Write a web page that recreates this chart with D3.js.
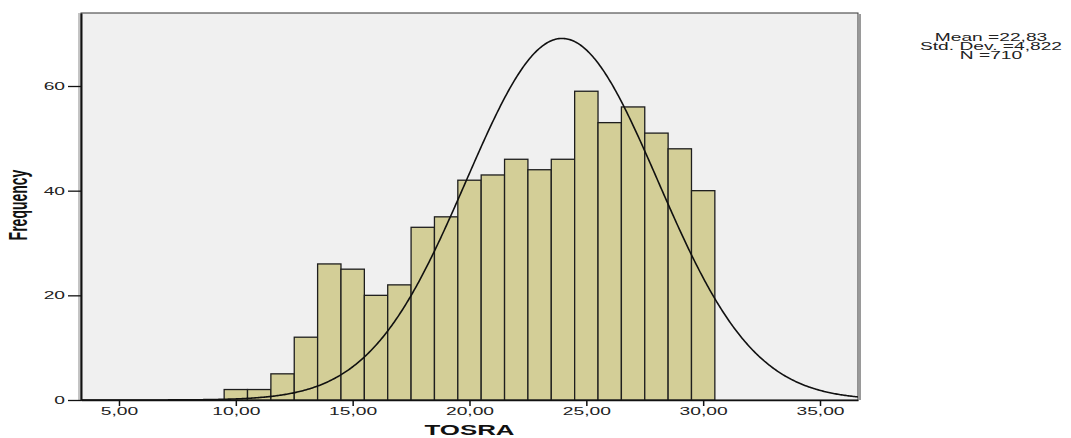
<!DOCTYPE html>
<html>
<head>
<meta charset="utf-8">
<script src="https://cdn.jsdelivr.net/npm/d3@7"></script>
<style>
  html, body { margin: 0; padding: 0; background: #ffffff; }
  svg { display: block; }
  text { font-family: "Liberation Sans", Arial, sans-serif; }
</style>
</head>
<body>
<svg id="chart" width="1071" height="438"></svg>
<script>
// ---- data ----
const binCenters = [10, 11, 12, 13, 14, 15, 16, 17, 18, 19, 20, 21, 22, 23, 24, 25, 26, 27, 28, 29, 30];
const frequencies = [2, 2, 5, 12, 26, 25, 20, 22, 33, 35, 42, 43, 46, 44, 46, 59, 53, 56, 51, 48, 40];
const binWidth = 1;
const xTickValues = [5, 10, 15, 20, 25, 30, 35];
const yTickValues = [0, 20, 40, 60];
const statsLines = ["Mean =22,83", "Std. Dev. =4,822", "N =710"];
// normal curve parameters as drawn in the picture
const curveMean = 23.96;
const curveSd = 4.1;
const curveN = 710;
const xLabel = "TOSRA";
const yLabel = "Frequency";

// ---- layout ----
const svg = d3.select("#chart");
const plotL = 81, plotR = 858, plotT = 13, plotB = 400;
const SX = 1.75; // horizontal text stretch seen in the picture

const x = d3.scaleLinear().domain([3.374, 36.626]).range([plotL, plotR]);
const y = d3.scaleLinear().domain([0, 73.95]).range([plotB, plotT]);

// plot background + frame
svg.append("rect")
  .attr("x", plotL).attr("y", plotT)
  .attr("width", plotR - plotL).attr("height", plotB - plotT)
  .attr("fill", "#f0f0f0")
  .attr("stroke", "#333").attr("stroke-width", 1);
svg.append("line").attr("x1", plotR + 2).attr("x2", plotR + 2).attr("y1", plotT + 1).attr("y2", plotB)
  .attr("stroke", "#9a9a9a").attr("stroke-width", 2);
svg.append("line").attr("x1", plotL - 2).attr("x2", plotL - 2).attr("y1", plotT).attr("y2", plotB)
  .attr("stroke", "#b0b0b0").attr("stroke-width", 1.5);

// bars
const bins = binCenters.map((c, i) => ({ c, f: frequencies[i] }));
svg.append("g").selectAll("rect").data(bins).join("rect")
  .attr("x", d => x(d.c - binWidth / 2))
  .attr("y", d => y(d.f))
  .attr("width", d => x(d.c + binWidth / 2) - x(d.c - binWidth / 2))
  .attr("height", d => y(0) - y(d.f))
  .attr("fill", "#d3ce97")
  .attr("stroke", "#1e1e1e")
  .attr("stroke-width", 1.3);

// normal curve
const pdf = v => curveN * binWidth / (curveSd * Math.sqrt(2 * Math.PI)) *
  Math.exp(-((v - curveMean) ** 2) / (2 * curveSd * curveSd));
const xs = d3.range(x.domain()[0], x.domain()[1] + 0.001, 0.05);
svg.append("path")
  .datum(xs)
  .attr("d", d3.line().x(v => x(v)).y(v => y(pdf(v))))
  .attr("fill", "none")
  .attr("stroke", "#111")
  .attr("stroke-width", 1.6);

// x axis
const gx = svg.append("g").attr("transform", `translate(0,${plotB})`)
  .call(d3.axisBottom(x).tickValues(xTickValues).tickSize(6).tickSizeOuter(0)
    .tickFormat(d => d3.format(".2f")(d).replace(".", ",")));
gx.select(".domain").attr("stroke", "#111").attr("stroke-width", 1.5);
gx.selectAll(".tick line").attr("stroke", "#111").attr("stroke-width", 1.5);
gx.selectAll(".tick text")
  .attr("transform", `scale(${SX},1)`)
  .attr("y", 7).attr("dy", "0.71em")
  .attr("font-size", 11).attr("fill", "#222")
  .attr("font-family", "Liberation Sans, Arial, sans-serif");

// y axis
const gy = svg.append("g").attr("transform", `translate(${plotL},0)`)
  .call(d3.axisLeft(y).tickValues(yTickValues).tickSize(13).tickSizeOuter(0));
gy.select(".domain").attr("stroke", "#111").attr("stroke-width", 2);
gy.selectAll(".tick line").attr("stroke", "#111").attr("stroke-width", 1.3);
gy.selectAll(".tick text")
  .attr("transform", `scale(${SX},1)`)
  .attr("x", -16 / SX)
  .attr("font-size", 11).attr("fill", "#222")
  .attr("font-family", "Liberation Sans, Arial, sans-serif");

// axis titles
svg.append("text")
  .attr("transform", `translate(${(plotL + plotR) / 2},435) scale(1.85,1)`)
  .attr("text-anchor", "middle")
  .attr("font-size", 14).attr("font-weight", "bold").attr("fill", "#111")
  .text(xLabel);

svg.append("text")
  .attr("transform", `translate(27,205) scale(1.9,1) rotate(-90)`)
  .attr("text-anchor", "middle")
  .attr("font-size", 14).attr("font-weight", "bold").attr("fill", "#111")
  .text(yLabel);

// stats box text
svg.append("g").selectAll("text").data(statsLines).join("text")
  .attr("transform", (d, i) => `translate(991,${41 + i * 9}) scale(1.92,1)`)
  .attr("text-anchor", "middle")
  .attr("font-size", 10).attr("fill", "#222")
  .text(d => d);
</script>
</body>
</html>
